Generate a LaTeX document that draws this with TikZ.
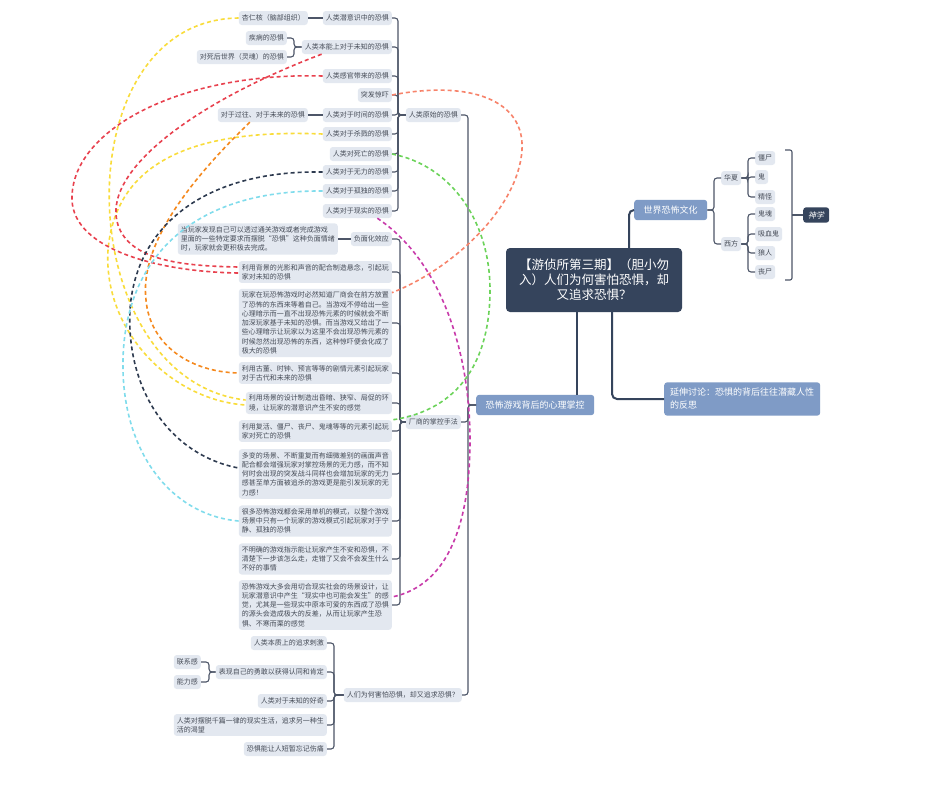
\documentclass[tikz,border=0pt]{standalone}
\usepackage{fontspec}
\setmainfont{Noto Sans CJK SC}
\newfontfamily\slantfont[FakeSlant=0.2]{Noto Sans CJK SC}
\usetikzlibrary{calc}
\definecolor{leaf}{HTML}{E3E8F0}
\definecolor{ink}{HTML}{464C57}
\definecolor{wire}{HTML}{4D5668}
\definecolor{navy}{HTML}{35445C}
\definecolor{topic}{HTML}{7F9BC6}
\definecolor{ryellow}{HTML}{F9DC3A}
\definecolor{rred}{HTML}{E8414E}
\definecolor{rorange}{HTML}{F5891E}
\definecolor{rnavy}{HTML}{2D3A4F}
\definecolor{rcyan}{HTML}{80DCEC}
\definecolor{rgreen}{HTML}{6CD35A}
\definecolor{rsalmon}{HTML}{F7836B}
\definecolor{rmagenta}{HTML}{C83AAA}
\tikzset{
  mm_base/.style = {fill=leaf, text=ink, rounded corners=3pt, inner xsep=3pt, inner ysep=3pt, align=left, font=\fontsize{7}{9.3}\selectfont},
  mm_n/.style = {mm_base, inner ysep=3.5pt, text height=5.6pt, text depth=1.4pt},
  mm_p/.style = {mm_base},
  mm_b/.style = {fill=topic, text=white, rounded corners=3pt, inner xsep=9.5pt, inner ysep=6pt, align=left, font=\fontsize{9}{13}\selectfont},
  mm_d/.style = {fill=navy, text=white, rounded corners=3pt, inner xsep=5pt, inner ysep=4pt, font=\slantfont\fontsize{8}{10}\selectfont},
  mm_root/.style = {fill=navy, text=white, rounded corners=4pt, align=center, minimum width=176pt, minimum height=64pt, font=\fontsize{12.5}{15}\selectfont},
  link/.style = {draw=wire, line width=1.1pt, rounded corners=3pt},
  trunk/.style = {draw=navy, line width=2pt, rounded corners=5pt},
  rel/.style = {line width=1.6pt, dash pattern=on 4pt off 3pt}
}
\begin{document}
\begin{tikzpicture}[x=1pt, y=-1pt]
\useasboundingbox (0,0) rectangle (937,785);
\fill[white] (0,0) rectangle (937,785);

\node [mm_root] (title) at (594,280) {【游侦所第三期】（胆小勿\\入）人们为何害怕恐惧，却\\又追求恐惧？};
\node [mm_b, anchor=west] (world) at (634,210) {世界恐怖文化};
\node [mm_b, anchor=west] (psy) at (476,405) {恐怖游戏背后的心理掌控};
\node [mm_b, anchor=west, inner xsep=6pt] (ext) at (664,399) {延伸讨论：恐惧的背后往往潜藏人性\\的反思};

\node [mm_n, anchor=west] (china) at (721,178) {华夏};
\node [mm_n, anchor=west] (occ) at (721,244) {西方};
\node [mm_n, anchor=west] (jiangshi) at (755,158) {僵尸};
\node [mm_n, anchor=west] (gui) at (755,177) {鬼};
\node [mm_n, anchor=west] (jingguai) at (755,197) {精怪};
\node [mm_n, anchor=west] (guihun) at (755,214) {鬼魂};
\node [mm_n, anchor=west] (xixuegui) at (755,234) {吸血鬼};
\node [mm_n, anchor=west] (langren) at (755,253) {狼人};
\node [mm_n, anchor=west] (sangshi) at (755,272) {丧尸};
\node [mm_d, anchor=west] (shenxue) at (803,215) {神学};

\node [mm_n, anchor=east] (prim) at (461,115) {人类原始的恐惧};
\node [mm_n, anchor=east] (sub) at (392,18) {人类潜意识中的恐惧};
\node [mm_n, anchor=east] (hrh) at (308,18) {杏仁核（脑部组织）};
\node [mm_n, anchor=east] (inst) at (392,47) {人类本能上对于未知的恐惧};
\node [mm_n, anchor=east] (ill) at (287,38) {疾病的恐惧};
\node [mm_n, anchor=east] (after) at (287,57) {对死后世界（灵魂）的恐惧};
\node [mm_n, anchor=east] (sense) at (392,76) {人类感官带来的恐惧};
\node [mm_n, anchor=east] (startle) at (392,95) {突发惊吓};
\node [mm_n, anchor=east] (time) at (392,115) {人类对于时间的恐惧};
\node [mm_n, anchor=east] (past) at (308,115) {对于过往、对于未来的恐惧};
\node [mm_n, anchor=east] (slay) at (392,134) {人类对于杀戮的恐惧};
\node [mm_n, anchor=east] (death) at (392,154) {人类对死亡的恐惧};
\node [mm_n, anchor=east] (weak) at (392,172) {人类对于无力的恐惧};
\node [mm_n, anchor=east] (lonely) at (392,191) {人类对于孤独的恐惧};
\node [mm_n, anchor=east] (real) at (392,211) {人类对于现实的恐惧};

\node [mm_n, anchor=east] (maker) at (461,422) {厂商的掌控手法};
\node [mm_n, anchor=east] (neg) at (392,239) {负面化效应};
\node [mm_p, anchor=east] (negtxt) at (338,239) {当玩家发现自己可以透过通关游戏或者完成游戏\\里面的一些特定要求而摆脱“恐惧”这种负面情绪\\时，玩家就会更积极去完成。};
\node [mm_p, anchor=east] (g_light) at (392,272) {利用背景的光影和声音的配合制造悬念，引起玩\\家对未知的恐惧};
\node [mm_p, anchor=east] (g_tease) at (392,323) {玩家在玩恐怖游戏时必然知道厂商会在前方放置\\了恐怖的东西来等着自己。当游戏不停给出一些\\心理暗示而一直不出现恐怖元素的时候就会不断\\加深玩家基于未知的恐惧。而当游戏又给出了一\\些心理暗示让玩家以为这里不会出现恐怖元素的\\时候忽然出现恐怖的东西，这种惊吓便会化成了\\极大的恐惧};
\node [mm_p, anchor=east] (g_relic) at (392,373) {利用古董、时钟、预言等等的剧情元素引起玩家\\对于古代和未来的恐惧};
\node [mm_p, anchor=east] (g_scene) at (392,403) {利用场景的设计制造出昏暗、狭窄、局促的环\\境，让玩家的潜意识产生不安的感觉};
\node [mm_p, anchor=east] (g_undead) at (392,431) {利用复活、僵尸、丧尸、鬼魂等等的元素引起玩\\家对死亡的恐惧};
\node [mm_p, anchor=east] (g_change) at (392,474) {多变的场景、不断重复而有细微差别的画面声音\\配合都会增强玩家对掌控场景的无力感，而不知\\何时会出现的突发战斗同样也会增加玩家的无力\\感甚至单方面被追杀的游戏更是能引发玩家的无\\力感！};
\node [mm_p, anchor=east] (g_single) at (392,521) {很多恐怖游戏都会采用单机的模式，以整个游戏\\场景中只有一个玩家的游戏模式引起玩家对于宁\\静、孤独的恐惧};
\node [mm_p, anchor=east] (g_vague) at (392,559) {不明确的游戏指示能让玩家产生不安和恐惧，不\\清楚下一步该怎么走，走错了又会不会发生什么\\不好的事情};
\node [mm_p, anchor=east] (g_real) at (392,605) {恐怖游戏大多会用切合现实社会的场景设计，让\\玩家潜意识中产生“现实中也可能会发生”的感\\觉，尤其是一些现实中原本可爱的东西成了恐惧\\的源头会造成极大的反差，从而让玩家产生恐\\惧、不寒而栗的感觉};

\node [mm_n, anchor=east] (why) at (462,695) {人们为何害怕恐惧，却又追求恐惧？};
\node [mm_n, anchor=east] (w_thrill) at (327,643) {人类本质上的追求刺激};
\node [mm_n, anchor=east] (w_brave) at (327,672) {表现自己的勇敢以获得认同和肯定};
\node [mm_n, anchor=east] (w_bond) at (201,662) {联系感};
\node [mm_n, anchor=east] (w_able) at (201,682) {能力感};
\node [mm_n, anchor=east] (w_curious) at (327,701) {人类对于未知的好奇};
\node [mm_p, anchor=east] (w_escape) at (327,725) {人类对摆脱千篇一律的现实生活，追求另一种生\\活的渴望};
\node [mm_n, anchor=east] (w_forget) at (327,749) {恐惧能让人短暂忘记伤痛};

\coordinate (b0) at (468,0);
\coordinate (b1) at (398,0);
\coordinate (b2) at (400,0);
\coordinate (b3) at (334,0);
\coordinate (b4) at (209,0);
\coordinate (b5) at (294,0);
\coordinate (b6) at (714,0);
\coordinate (b7) at (748,0);
\coordinate (t_n) at ([xshift=35pt]title.north);
\coordinate (t_s) at ([xshift=-17pt]title.south);
\coordinate (t_e) at ([xshift=18pt]title.south);
\coordinate (sb_t) at (785,150);
\coordinate (sb_b) at (785,280);
\coordinate (sb_m) at (792,215);

\draw[trunk] (t_n) |- (world.west);
\draw[trunk] (t_s) -- (t_s |- psy.north);
\draw[trunk] (t_e) |- (ext.west);

\foreach \c in {china,occ}
	\draw[link] (world.east) -- (world.east -| b6) |- (\c.west);
\foreach \c in {jiangshi,gui,jingguai}
	\draw[link] (china.east) -- (china.east -| b7) |- (\c.west);
\foreach \c in {guihun,xixuegui,langren,sangshi}
	\draw[link] (occ.east) -- (occ.east -| b7) |- (\c.west);
\draw[link, rounded corners=2pt] (sb_t) -- ++(7,0) -- ($(sb_b)+(7,0)$) -- (sb_b);
\draw[link] (sb_m) -- (shenxue.west);

\foreach \c in {prim,maker,why}
	\draw[link] (psy.west) -- (psy.west -| b0) |- (\c.east);
\foreach \c in {sub,inst,sense,startle,time,slay,death,weak,lonely,real}
	\draw[link] (prim.west) -- (prim.west -| b1) |- (\c.east);
\foreach \c in {neg,g_light,g_tease,g_relic,g_scene,g_undead,g_change,g_single,g_vague,g_real}
	\draw[link] (maker.west) -- (maker.west -| b2) |- (\c.east);
\foreach \c in {w_thrill,w_brave,w_curious,w_escape,w_forget}
	\draw[link] (why.west) -- (why.west -| b3) |- (\c.east);
\foreach \c in {w_bond,w_able}
	\draw[link] (w_brave.west) -- (w_brave.west -| b4) |- (\c.east);
\foreach \c in {ill,after}
	\draw[link] (inst.west) -- (inst.west -| b5) |- (\c.east);
\draw[link] (hrh) -- (sub);
\draw[link] (past) -- (time);
\draw[link] (negtxt) -- (neg);

\draw[rel, ryellow] (hrh.west) .. controls (60,20) and (70,380) .. ([yshift=3pt]g_scene.west);
\draw[rel, ryellow] (slay.west) .. controls (180,128) and (115,170) .. (108,250) .. controls (103,330) and (170,400) .. ([yshift=-2pt]g_scene.west);
\draw[rel, rred] ([xshift=20pt]inst.south west) .. controls (200,100) and (100,170) .. (118,225) .. controls (130,260) and (180,266) .. ([yshift=5pt]g_light.west);
\draw[rel, rred] (sense.west) .. controls (180,72) and (70,130) .. (72,200) .. controls (74,250) and (160,272) .. ([yshift=-1pt]g_light.west);
\draw[rel, rorange] ([xshift=-13pt]past.south) .. controls (180,190) and (140,250) .. (146,300) .. controls (150,345) and (190,372) .. (g_relic.west);
\draw[rel, rnavy] (weak.west) .. controls (200,170) and (135,230) .. (130,310) .. controls (126,390) and (170,455) .. ([yshift=6pt]g_change.west);
\draw[rel, rcyan] (lonely.west) .. controls (190,190) and (125,260) .. (123,360) .. controls (121,450) and (170,515) .. (g_single.west);
\draw[rel, rgreen] (death.east) .. controls (450,165) and (490,220) .. (490,290) .. controls (490,360) and (460,410) .. (g_undead.north east);
\draw[rel, rsalmon] (startle.east) .. controls (470,80) and (525,100) .. (522,150) .. controls (518,210) and (450,270) .. ([yshift=-4pt]g_tease.north east);
\draw[rel, rmagenta] ([xshift=20pt]real.south) .. controls (440,260) and (470,350) .. (470,440) .. controls (470,520) and (450,585) .. ([yshift=8pt]g_real.east);
\end{tikzpicture}
\end{document}
